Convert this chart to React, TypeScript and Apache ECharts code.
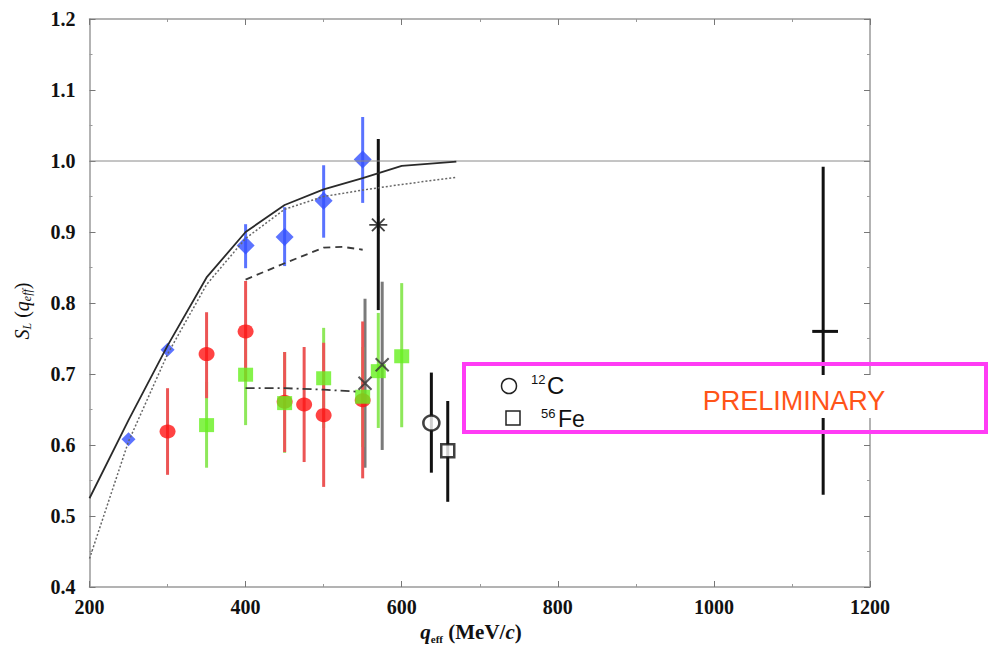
import React, { useEffect, useRef } from "react";
import * as echarts from "echarts";

// theory curves
const solidCurve = [[200, 0.525], [250, 0.635], [300, 0.74], [350, 0.836], [400, 0.9], [450, 0.938], [500, 0.96], [550, 0.976], [600, 0.993], [670, 0.999]];
const dottedCurve = [[200, 0.44], [250, 0.605], [300, 0.728], [350, 0.826], [400, 0.891], [450, 0.932], [500, 0.95], [550, 0.959], [600, 0.967], [670, 0.977]];
const dashedCurve = [[400, 0.833], [450, 0.856], [500, 0.878], [525, 0.879], [550, 0.875]];
const dashDotCurve = [[400, 0.68], [450, 0.68], [500, 0.678], [545, 0.675]];
const unityLine = [[200, 1.0], [1200, 1.0]];

// blue diamonds
const blueX = [250, 300, 400, 450, 500, 550];
const blueY = [0.608, 0.734, 0.881, 0.893, 0.944, 1.002];
const blueLo = [0.608, 0.734, 0.849, 0.852, 0.892, 0.941];
const blueHi = [0.608, 0.734, 0.911, 0.935, 0.994, 1.062];

// red circles
const redX = [300, 350, 400, 450, 475, 500, 550];
const redY = [0.619, 0.728, 0.76, 0.661, 0.657, 0.642, 0.663];
const redLo = [0.558, 0.666, 0.69, 0.59, 0.576, 0.541, 0.553];
const redHi = [0.68, 0.787, 0.831, 0.731, 0.738, 0.744, 0.774];

// green squares
const greenX = [350, 400, 450, 500, 550, 570, 600];
const greenY = [0.628, 0.699, 0.659, 0.694, 0.668, 0.704, 0.725];
const greenLo = [0.568, 0.628, 0.589, 0.624, 0.597, 0.624, 0.625];
const greenHi = [0.689, 0.77, 0.731, 0.765, 0.738, 0.786, 0.828];

// black star
const starX = [570];
const starY = [0.91];
const starLo = [0.79];
const starHi = [1.031];

// crosses (x markers)
const crossX = [553, 575];
const crossY = [0.687, 0.713];
const crossLo = [0.568, 0.593];
const crossHi = [0.806, 0.83];

// 12C open circle
const cX = [638];
const cY = [0.631];
const cLo = [0.561];
const cHi = [0.702];

// 56Fe open square
const feX = [659];
const feY = [0.592];
const feLo = [0.52];
const feHi = [0.662];

// high-q point
const hiX = [1140];
const hiY = [0.76];
const hiYLo = [0.53];
const hiYHi = [0.992];
const hiXLo = [1126];
const hiXHi = [1159];

const xTicks = [200, 400, 600, 800, 1000, 1200];

const zip = (xs: number[], ys: number[]) => xs.map((x, i) => [x, ys[i]]);
const zip3 = (a: number[], b: number[], c: number[]) => a.map((x, i) => [x, b[i], c[i]]);

function vErr(data: number[][], color: string, width = 3) {
  return {
    type: "custom",
    data,
    encode: { x: 0, y: [1, 2] },
    silent: true,
    renderItem: (_p: any, api: any) => {
      const a = api.coord([api.value(0), api.value(1)]);
      const b = api.coord([api.value(0), api.value(2)]);
      return {
        type: "line",
        shape: { x1: a[0], y1: a[1], x2: b[0], y2: b[1] },
        style: { stroke: color, lineWidth: width },
      };
    },
  };
}

function hErr(data: number[][], color: string, width = 3) {
  return {
    type: "custom",
    data,
    encode: { y: 0, x: [1, 2] },
    silent: true,
    renderItem: (_p: any, api: any) => {
      const a = api.coord([api.value(1), api.value(0)]);
      const b = api.coord([api.value(2), api.value(0)]);
      return {
        type: "line",
        shape: { x1: a[0], y1: a[1], x2: b[0], y2: b[1] },
        style: { stroke: color, lineWidth: width },
      };
    },
  };
}

const serif = "'Liberation Serif', 'DejaVu Serif', serif";
const sans = "'Liberation Sans', Arial, sans-serif";

export default function App() {
  const ref = useRef<HTMLDivElement>(null);
  useEffect(() => {
    document.body.style.margin = "0";
    const chart = echarts.init(ref.current!, undefined, { renderer: "svg" });
    const tickLabel = {
      fontFamily: serif,
      fontWeight: "bold",
      fontSize: 20,
      color: "#111",
    };
    const axisCommon = {
      axisLine: { show: true, lineStyle: { color: "#9a9a9a", width: 1.5 } },
      axisTick: { show: true, inside: true, length: 6, lineStyle: { color: "#777", width: 1 } },
      minorTick: { show: true, splitNumber: 2, length: 3, lineStyle: { color: "#999", width: 1 } },
      splitLine: { show: false },
      minorSplitLine: { show: false },
    };
    const option: any = {
      animation: false,
      backgroundColor: "#fff",
      grid: { left: 89.5, right: 119, top: 19, bottom: 61 },
      xAxis: [
        {
          type: "value", min: 200, max: 1200, interval: 200, position: "bottom",
          ...axisCommon,
          axisLabel: { ...tickLabel, margin: 10, formatter: (v: number) => (xTicks.includes(v) ? String(v) : "") },
        },
        {
          type: "value", min: 200, max: 1200, interval: 200, position: "top",
          ...axisCommon, axisLabel: { show: false },
        },
      ],
      yAxis: [
        {
          type: "value", min: 0.4, max: 1.2, interval: 0.1, position: "left",
          ...axisCommon,
          axisLabel: { ...tickLabel, margin: 14, formatter: (v: number) => v.toFixed(1) },
        },
        {
          type: "value", min: 0.4, max: 1.2, interval: 0.1, position: "right",
          ...axisCommon, axisLabel: { show: false },
        },
      ],
      series: [
        { type: "line", data: unityLine, symbol: "none", lineStyle: { color: "#8a8a8a", width: 1 }, silent: true },
        { type: "line", data: dottedCurve, symbol: "none", lineStyle: { color: "#666", width: 1.5, type: [2, 2] }, silent: true },
        { type: "line", data: solidCurve, symbol: "none", lineStyle: { color: "#2a2a2a", width: 1.8 }, silent: true },
        { type: "line", data: dashedCurve, symbol: "none", lineStyle: { color: "#3a3a3a", width: 1.8, type: [7, 5] }, silent: true },
        { type: "line", data: dashDotCurve, symbol: "none", lineStyle: { color: "#3a3a3a", width: 1.8, type: [9, 4, 2, 4] }, silent: true },
        vErr(zip3(crossX, crossLo, crossHi), "#7a7a7a", 3),
        vErr(zip3(starX, starLo, starHi), "#111", 3),
        vErr(zip3(blueX, blueLo, blueHi), "#5a73ff", 3),
        vErr(zip3(greenX, greenLo, greenHi), "#8ee85a", 3),
        vErr(zip3(redX, redLo, redHi), "#ec5555", 3),
        vErr(zip3(cX, cLo, cHi), "#111", 3),
        vErr(zip3(feX, feLo, feHi), "#111", 3),
        vErr(zip3(hiX, hiYLo, hiYHi), "#111", 3),
        hErr(zip3(hiY, hiXLo, hiXHi), "#111", 3),
        {
          type: "scatter", data: zip(blueX, blueY), symbol: "diamond",
          symbolSize: (v: number[]) => (v[0] < 350 ? 14 : 18),
          itemStyle: { color: "#3350ff" },
        },
        {
          type: "scatter", data: zip(redX, redY), symbol: "circle", symbolSize: [16, 14],
          itemStyle: { color: "#ff1414" },
        },
        {
          type: "scatter", data: zip(greenX, greenY), symbol: "rect", symbolSize: [15, 14],
          itemStyle: { color: "#66f01e" },
        },
        {
          type: "scatter", data: zip(starX, starY), symbol: "path://M0 10L20 10M10 0L10 20M3 3L17 17M17 3L3 17",
          symbolSize: 18, itemStyle: { color: "rgba(0,0,0,0)", borderColor: "#111", borderWidth: 1.8 },
        },
        {
          type: "scatter", data: zip(crossX, crossY), symbol: "path://M0 0L10 10M10 0L0 10",
          symbolSize: 13, itemStyle: { color: "rgba(0,0,0,0)", borderColor: "#333", borderWidth: 2 },
        },
        {
          type: "scatter", data: zip(cX, cY), symbol: "circle", symbolSize: [16, 15],
          itemStyle: { color: "#fff", borderColor: "#111", borderWidth: 2.5 },
        },
        {
          type: "scatter", data: zip(feX, feY), symbol: "rect", symbolSize: 13,
          itemStyle: { color: "#fff", borderColor: "#111", borderWidth: 2.5 },
        },
      ],
      graphic: [
        {
          type: "rect", z: 100, silent: true,
          shape: { x: 680, y: 375, width: 300, height: 43 },
          style: { fill: "#fff" },
        },
        {
          type: "rect", z: 101, silent: true,
          shape: { x: 464, y: 364, width: 522, height: 68 },
          style: { fill: "none", stroke: "#ff3cf5", lineWidth: 4 },
        },
        {
          type: "text", z: 102, x: 794, y: 400.5,
          style: { text: "PRELIMINARY", fill: "#ff5418", fontFamily: sans, fontSize: 27, align: "center", verticalAlign: "middle" },
        },
        {
          type: "circle", z: 102, shape: { cx: 509, cy: 386, r: 7.5 },
          style: { fill: "none", stroke: "#222", lineWidth: 1.5 },
        },
        {
          type: "rect", z: 102, shape: { x: 506, y: 411, width: 14, height: 14 },
          style: { fill: "none", stroke: "#222", lineWidth: 1.5 },
        },
        {
          type: "text", z: 102, x: 531, y: 379,
          style: { text: "12", fill: "#111", fontFamily: sans, fontSize: 13, align: "left", verticalAlign: "middle" },
        },
        {
          type: "text", z: 102, x: 547, y: 385,
          style: { text: "C", fill: "#111", fontFamily: sans, fontSize: 24, align: "left", verticalAlign: "middle" },
        },
        {
          type: "text", z: 102, x: 541, y: 413,
          style: { text: "56", fill: "#111", fontFamily: sans, fontSize: 13, align: "left", verticalAlign: "middle" },
        },
        {
          type: "text", z: 102, x: 558, y: 419,
          style: { text: "Fe", fill: "#111", fontFamily: sans, fontSize: 23, align: "left", verticalAlign: "middle" },
        },
        {
          type: "text", z: 102, x: 22, y: 311, rotation: Math.PI / 2,
          style: {
            text: "{i|S}{sub|L}{n| (}{i|q}{sub|eff}{n|)}",
            align: "center", verticalAlign: "middle", fill: "#111",
            rich: {
              i: { fontFamily: serif, fontStyle: "italic", fontSize: 20, lineHeight: 22, verticalAlign: "middle", fill: "#111" },
              n: { fontFamily: serif, fontSize: 20, lineHeight: 22, verticalAlign: "middle", fill: "#111" },
              sub: { fontFamily: serif, fontStyle: "italic", fontSize: 12, lineHeight: 22, verticalAlign: "bottom", fill: "#111" },
            },
          },
        },
        {
          type: "text", z: 102, x: 471, y: 632,
          style: {
            text: "{bi|q}{sub|eff}{b| (MeV/}{bi|c}{b|)}",
            align: "center", verticalAlign: "middle", fill: "#111",
            rich: {
              bi: { fontFamily: serif, fontStyle: "italic", fontWeight: "bold", fontSize: 21, lineHeight: 24, verticalAlign: "middle", fill: "#111" },
              b: { fontFamily: serif, fontWeight: "bold", fontSize: 21, lineHeight: 24, verticalAlign: "middle", fill: "#111" },
              sub: { fontFamily: serif, fontWeight: "bold", fontSize: 11, lineHeight: 24, verticalAlign: "bottom", fill: "#111" },
            },
          },
        },
      ],
    };
    chart.setOption(option);
    return () => chart.dispose();
  }, []);
  return <div ref={ref} style={{ width: 989, height: 648 }} />;
}
